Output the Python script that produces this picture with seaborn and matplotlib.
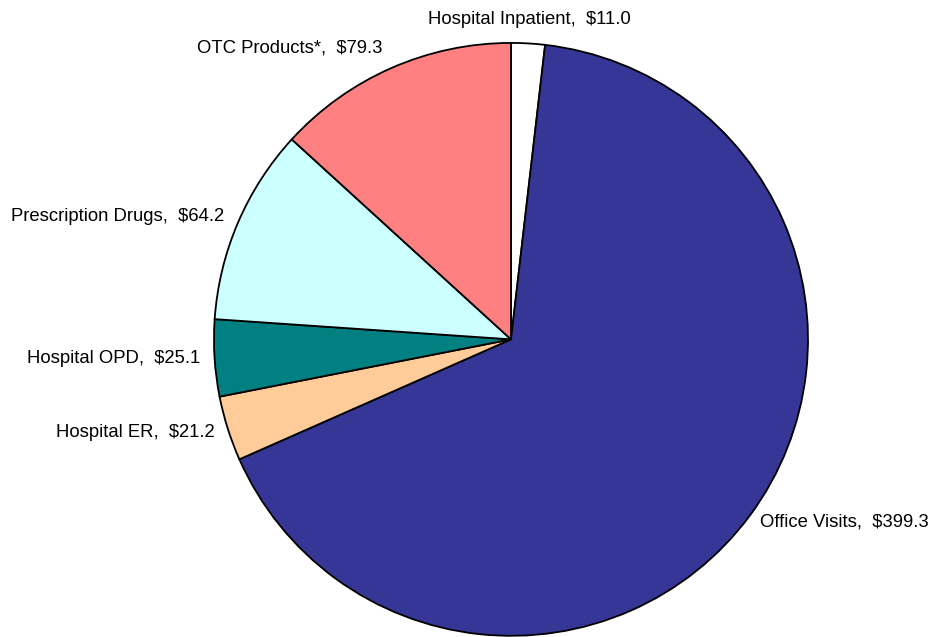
"""Gasto por tipo de servicio - grafico de tarta."""

import matplotlib
matplotlib.use("Agg")
import matplotlib.pyplot as plt
import numpy as np
import seaborn as sns

# datos (millones de $)
categorias = [
    "Hospital Inpatient",
    "Office Visits",
    "Hospital ER",
    "Hospital OPD",
    "Prescription Drugs",
    "OTC Products*",
]
valores = [11.0, 399.3, 21.2, 25.1, 64.2, 79.3]
colores = ["#FFFFFF", "#363696", "#FFCC99", "#008080", "#CCFFFF", "#FF8080"]

etiquetas = [f"{c},  ${v:.1f}" for c, v in zip(categorias, valores)]

sns.set_theme(style="white")
plt.rcParams["font.family"] = ["Liberation Sans", "DejaVu Sans"]

fig = plt.figure(figsize=(9.32, 6.37), dpi=100)
ax = fig.add_axes([0, 0, 1, 1])

wedges, textos = ax.pie(
    valores,
    labels=etiquetas,
    colors=colores,
    startangle=90,
    counterclock=False,
    labeldistance=1.06,
    wedgeprops={"edgecolor": "black", "linewidth": 1.3},
    textprops={"fontsize": 13.3, "color": "black"},
)

# ajuste fino de la distancia de cada etiqueta al centro
distancias = [1.08, 1.04, 1.045, 1.05, 1.05, 1.075]
for w, t, d in zip(wedges, textos, distancias):
    ang = np.deg2rad((w.theta1 + w.theta2) / 2)
    t.set_position((d * np.cos(ang), d * np.sin(ang)))
# la etiqueta superior va centrada sobre su porcion
textos[0].set_horizontalalignment("center")

ax.set_aspect("auto")
ax.set_xlim(-1.7205, 1.4175)
ax.set_ylim(-1.004, 1.1448)
ax.axis("off")

fig.savefig("out.png", dpi=100)
